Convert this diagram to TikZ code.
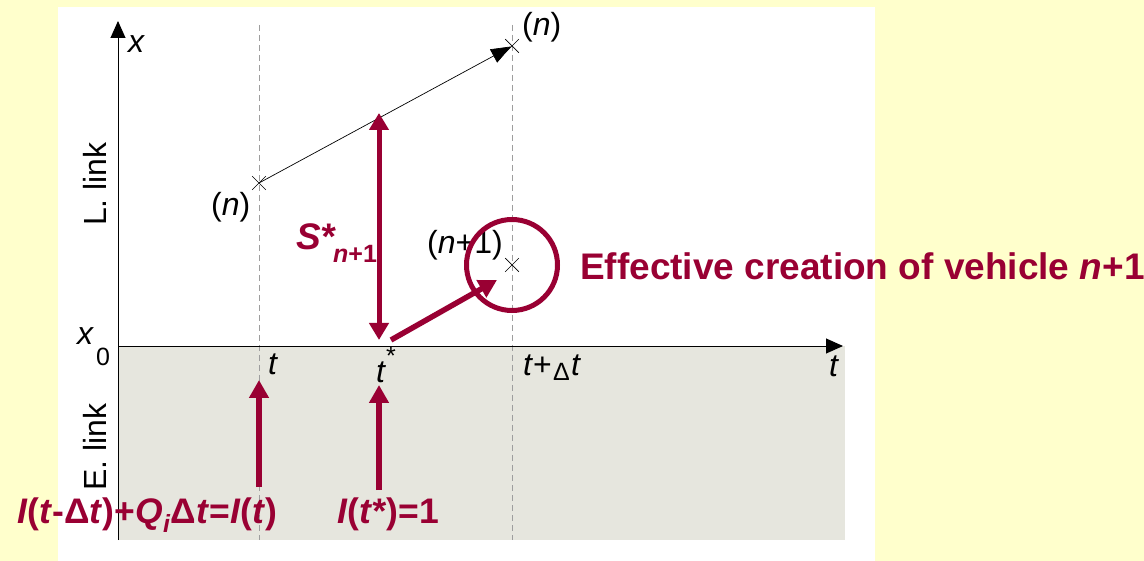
\documentclass[tikz,border=0pt]{standalone}
\usepackage{fontspec}
\setmainfont{Liberation Sans}
\usetikzlibrary{arrows.meta,shapes.misc,calc}
\definecolor{bgyellow}{RGB}{255,255,204}
\definecolor{linkgray}{RGB}{230,230,222}
\definecolor{maroon}{RGB}{153,0,51}

\begin{document}
\begin{tikzpicture}[
  x=1pt, y=-1pt,
  axis/.style={-{Triangle[length=17pt,width=15pt]}, line width=0.9pt, draw=black},
  guide/.style={draw=black!38, dash pattern=on 6pt off 4pt, line width=0.8pt},
  vehmark/.style={draw=black, shape=cross out, minimum size=13pt, inner sep=0pt, line width=0.7pt},
  traj/.style={-{Triangle[length=20pt,width=15pt]}, line width=0.7pt, draw=black, shorten >=1pt},
  push/.style={-{Triangle[length=18pt,width=19pt]}, line width=5.5pt, draw=maroon},
  gap/.style={{Triangle[length=17pt,width=19pt]}-{Triangle[length=17pt,width=19pt]}, line width=5pt, draw=maroon},
  ring/.style={draw=maroon, line width=5pt, circle, minimum size=91pt, inner sep=0pt},
  lbl/.style={font=\fontsize{32}{34}\selectfont, inner sep=0pt},
  sublbl/.style={font=\fontsize{25}{27}\selectfont, inner sep=0pt},
  redlbl/.style={text=maroon, font=\fontsize{37}{40}\selectfont\bfseries, inner sep=0pt},
  countlbl/.style={redlbl, font=\fontsize{35.5}{38}\selectfont\bfseries},
  redsub/.style={text=maroon, font=\fontsize{25}{27}\selectfont\bfseries, inner sep=0pt}
]

% Background, slide area and entry link band.
\useasboundingbox (0,0) rectangle (1144,561);
\fill[bgyellow] (0,0) rectangle (1144,561);
\fill[white] (58,7) rectangle (875,561);
\fill[linkgray] (118,346) rectangle (845,540);

% Time guides.
\draw[guide] (259,25) -- (259,540);
\draw[guide] (512,25) -- (512,540);

% Axes.
\coordinate (origin) at (118,346);
\coordinate (xtop) at (118,21);
\coordinate (xbot) at (118,540);
\coordinate (tend) at (843,346);
\draw[axis] (xbot) -- (xtop);
\draw[axis] (origin) -- (tend);

% Axis labels.
\node[lbl, anchor=base west] (xlab) at (128,53) {\textit{x}};
\node[lbl, anchor=base west] (xzero) at (77,345) {\textit{x}};
\node[sublbl, anchor=base west] (xzerosub) at (96,366) {0};
\node[lbl, anchor=base west] (tlab) at (268,375) {\textit{t}};
\node[lbl, anchor=base west] (tstar) at (376,383) {\textit{t}};
\node[sublbl, anchor=base west] (tstarsup) at (386,365) {*};
\node[lbl, anchor=base west] (tdelta) at (523,376) {\textit{t}+};
\node[sublbl, anchor=base west] (tdeltad) at (553,381) {Δ};
\node[lbl, anchor=base west] (tdeltat) at (571,376) {\textit{t}};
\node[lbl, anchor=base west] (tend) at (829,377) {\textit{t}};
\node[lbl, rotate=90] (llink) at (95,184) {L. link};
\node[lbl, rotate=90] (elink) at (95,447) {E. link};

% Vehicle positions and trajectory.
\node[vehmark] (vn) at (259,183) {};
\node[vehmark] (vnlater) at (512,46) {};
\node[vehmark] (vnew) at (512,265) {};
\draw[traj] (vn.center) -- (vnlater.center);
\node[lbl, anchor=base west] (nlow) at (211,216) {(\textit{n})};
\node[lbl, anchor=base west] (nhigh) at (522,36) {(\textit{n})};
\node[lbl, anchor=base west] (nnew) at (427,254) {(\textit{n}+1)};

% Spacing and creation of the new vehicle.
\coordinate (gaptop) at (379,113);
\coordinate (gapbot) at (379,340);
\draw[gap] (gaptop) -- (gapbot);
\node[redlbl, anchor=base west] (spacing) at (296,250) {\textit{S*}};
\node[redsub, anchor=base west] (spacingsub) at (333,263) {\textit{n}+1};
\node[ring] (circ) at (vnew) {};
\coordinate (pushfrom) at (391,340);
\coordinate (pushto) at (497,280);
\draw[push] (pushfrom) -- (pushto);
\node[redlbl, anchor=base west] (effect) at (580,280) {Effective creation of vehicle \textit{n}+1};

% Entry link counters.
\coordinate (countA) at (259,487);
\coordinate (countAtip) at (259,380);
\coordinate (countB) at (379,490);
\coordinate (countBtip) at (379,385);
\draw[push] (countA) -- (countAtip);
\draw[push] (countB) -- (countBtip);
\node[countlbl, anchor=base west] (balance) at (17,523)
  {\textit{I}(\textit{t}-Δ\textit{t})+\textit{Q}\textsubscript{\textit{i}}Δ\textit{t}=\textit{I}(\textit{t})};
\node[countlbl, anchor=base west] (trigger) at (337,523) {\textit{I}(\textit{t*})=1};

\end{tikzpicture}
\end{document}
